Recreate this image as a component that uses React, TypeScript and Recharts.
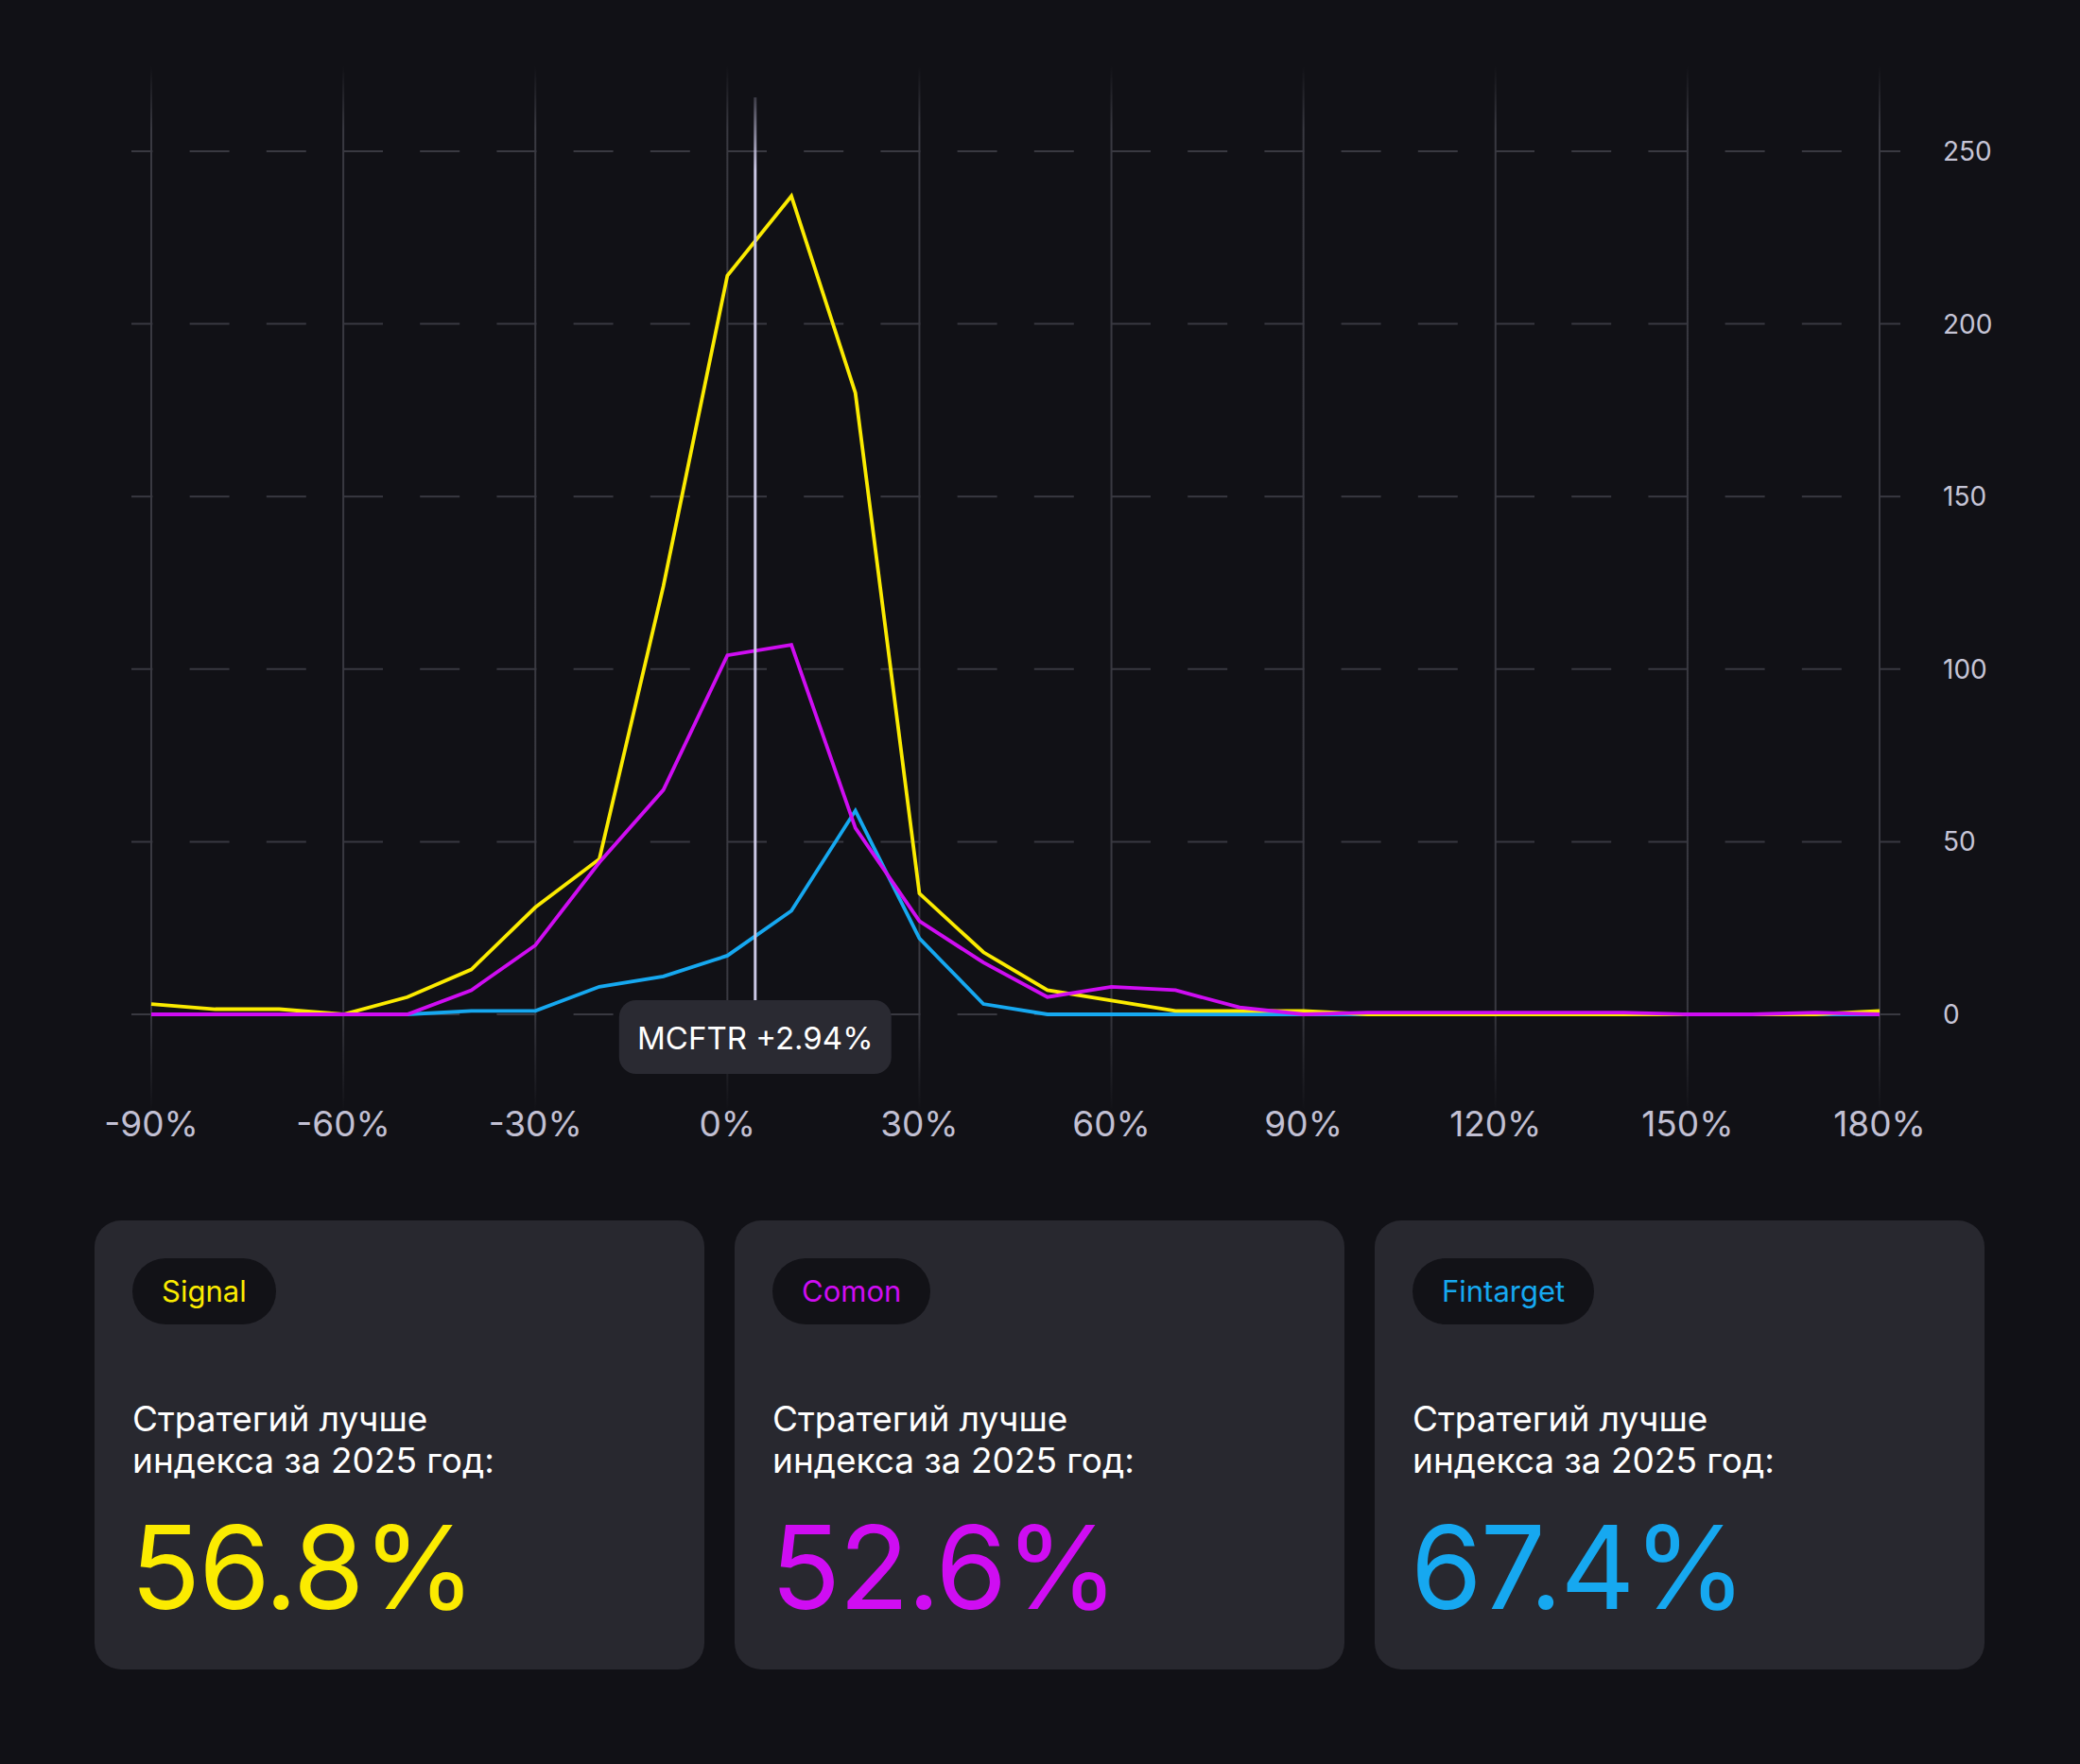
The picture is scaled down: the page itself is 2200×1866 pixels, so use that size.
import React from "react";
import {
  LineChart,
  Line,
  XAxis,
  YAxis,
  CartesianGrid,
  ReferenceLine,
} from "recharts";

// доходность стратегий, бины по 10%
const returnBins = [
  -90, -80, -70, -60, -50, -40, -30, -20, -10, 0, 10, 20, 30, 40, 50, 60, 70,
  80, 90, 100, 110, 120, 130, 140, 150, 160, 170, 180,
];
const signalCounts = [
  3, 1.5, 1.5, 0, 5, 13, 31, 45, 124, 214, 237, 180, 35, 18, 7, 4, 1, 1, 1, 0,
  0, 0, 0, 0, 0, 0, 0, 1,
];
const comonCounts = [
  0, 0, 0, 0, 0, 7, 20, 44, 65, 104, 107, 54, 27, 15, 5, 8, 7, 2, 0, 0.5, 0.5,
  0.5, 0.5, 0.5, 0, 0, 0.5, 0,
];
const fintargetCounts = [
  0, 0, 0, 0, 0, 1, 1, 8, 11, 17, 30, 59, 22, 3, 0, 0, 0, 0, 0, 0, 0, 0, 0, 0,
  0, 0, 0, 0,
];
const xTicks = [-90, -60, -30, 0, 30, 60, 90, 120, 150, 180];
const yTicks = [0, 50, 100, 150, 200, 250];

const mcftrLabel = "MCFTR +2.94%";
const mcftrPosition = 4.35; // где линия стоит на картинке

const platforms = [
  { name: "Signal", share: "56.8%", color: "#fbeb00" },
  { name: "Comon", share: "52.6%", color: "#cf0df2" },
  { name: "Fintarget", share: "67.4%", color: "#16a8f0" },
];

const chartData = returnBins.map((bin, i) => ({
  bin,
  signal: signalCounts[i],
  comon: comonCounts[i],
  fintarget: fintargetCounts[i],
}));

const FONT = "Inter, 'Noto Sans', sans-serif";
const BG = "#111116";
const GRID = "#393941";

function McftrMarker(props: any) {
  const { x1 } = props;
  const top = Math.min(props.y1, props.y2);
  const bottom = Math.max(props.y1, props.y2);
  const boxW = 288;
  const boxH = 78;
  const boxTop = bottom - 15;
  return (
    <g>
      <line
        x1={x1}
        x2={x1}
        y1={top - 57}
        y2={boxTop}
        stroke="url(#mcftrFade)"
        strokeWidth={3}
      />
      <rect
        x={x1 - boxW / 2}
        y={boxTop}
        width={boxW}
        height={boxH}
        rx={18}
        fill="#2a2a32"
      />
      <text
        x={x1}
        y={boxTop + boxH / 2 + 1}
        textAnchor="middle"
        dominantBaseline="central"
        fill="#ffffff"
        fontSize={33}
        fontFamily={FONT}
      >
        {mcftrLabel}
      </text>
    </g>
  );
}

function PlatformCard({ name, share, color, left }: any) {
  return (
    <div
      style={{
        position: "absolute",
        left,
        top: 1291,
        width: 645,
        height: 475,
        borderRadius: 28,
        background: "#28282f",
        fontFamily: FONT,
      }}
    >
      <div
        style={{
          position: "absolute",
          left: 40,
          top: 40,
          height: 70,
          lineHeight: "70px",
          padding: "0 31px",
          borderRadius: 35,
          background: "#121217",
          color,
          fontSize: 31,
        }}
      >
        {name}
      </div>
      <div
        style={{
          position: "absolute",
          left: 40,
          top: 188,
          color: "#ffffff",
          fontSize: 37,
          lineHeight: "44px",
        }}
      >
        Стратегий лучше
        <br />
        индекса за 2025 год:
      </div>
      <div
        style={{
          position: "absolute",
          left: 38,
          top: 306,
          color,
          fontSize: 122,
          lineHeight: "122px",
          letterSpacing: "-2px",
        }}
      >
        {share}
      </div>
    </div>
  );
}

export default function App() {
  return (
    <div
      style={{
        position: "absolute",
        left: 0,
        top: 0,
        width: 2200,
        height: 1866,
        background: BG,
        overflow: "hidden",
      }}
    >
      <LineChart
        width={2200}
        height={1240}
        data={chartData}
        margin={{ top: 160, right: 62, bottom: 67, left: 160 }}
      >
        <defs>
          <linearGradient
            id="vgridFade"
            x1="0"
            y1="70"
            x2="0"
            y2="1175"
            gradientUnits="userSpaceOnUse"
          >
            <stop offset="0" stopColor={GRID} stopOpacity={0} />
            <stop offset="0.06" stopColor={GRID} stopOpacity={1} />
            <stop offset="0.9" stopColor={GRID} stopOpacity={1} />
            <stop offset="1" stopColor={GRID} stopOpacity={0} />
          </linearGradient>
          <linearGradient
            id="mcftrFade"
            x1="0"
            y1="100"
            x2="0"
            y2="180"
            gradientUnits="userSpaceOnUse"
          >
            <stop offset="0" stopColor="#cac7e4" stopOpacity={0.2} />
            <stop offset="1" stopColor="#cac7e4" stopOpacity={1} />
          </linearGradient>
        </defs>
        <CartesianGrid
          vertical={(p: any) => (
            <line
              key={p.key}
              x1={p.x1}
              x2={p.x2}
              y1={p.y1 - 90}
              y2={p.y2 + 100}
              stroke="url(#vgridFade)"
              strokeWidth={2}
            />
          )}
          horizontal={(p: any) => (
            <line
              key={p.key}
              x1={p.x1 - 21}
              x2={p.x2 + 22}
              y1={p.y1}
              y2={p.y2}
              stroke={GRID}
              strokeWidth={2}
              strokeDasharray="42 39.2"
              strokeDashoffset={19.6}
            />
          )}
        />
        <XAxis
          dataKey="bin"
          type="number"
          domain={[-90, 180]}
          ticks={xTicks}
          interval={0}
          height={100}
          axisLine={false}
          tickLine={false}
          tickSize={0}
          tickMargin={103}
          tickFormatter={(v: number) => `${v}%`}
          tick={{ fill: "#c2c0d3", fontSize: 37, fontFamily: FONT }}
        />
        <YAxis
          orientation="right"
          domain={[0, 250]}
          ticks={yTicks}
          width={150}
          axisLine={false}
          tickLine={false}
          tickSize={0}
          tickMargin={67}
          tick={{ fill: "#c6c5d6", fontSize: 28, fontFamily: FONT }}
        />
        <Line
          dataKey="fintarget"
          stroke={platforms[2].color}
          strokeWidth={3.8}
          dot={false}
          activeDot={false}
          isAnimationActive={false}
        />
        <Line
          dataKey="signal"
          stroke={platforms[0].color}
          strokeWidth={3.8}
          dot={false}
          activeDot={false}
          isAnimationActive={false}
        />
        <Line
          dataKey="comon"
          stroke={platforms[1].color}
          strokeWidth={3.8}
          dot={false}
          activeDot={false}
          isAnimationActive={false}
        />
        <ReferenceLine
          x={mcftrPosition}
          ifOverflow="visible"
          shape={(p: any) => <McftrMarker {...p} />}
        />
      </LineChart>
      {platforms.map((p, i) => (
        <PlatformCard key={p.name} {...p} left={100 + i * 677} />
      ))}
    </div>
  );
}
